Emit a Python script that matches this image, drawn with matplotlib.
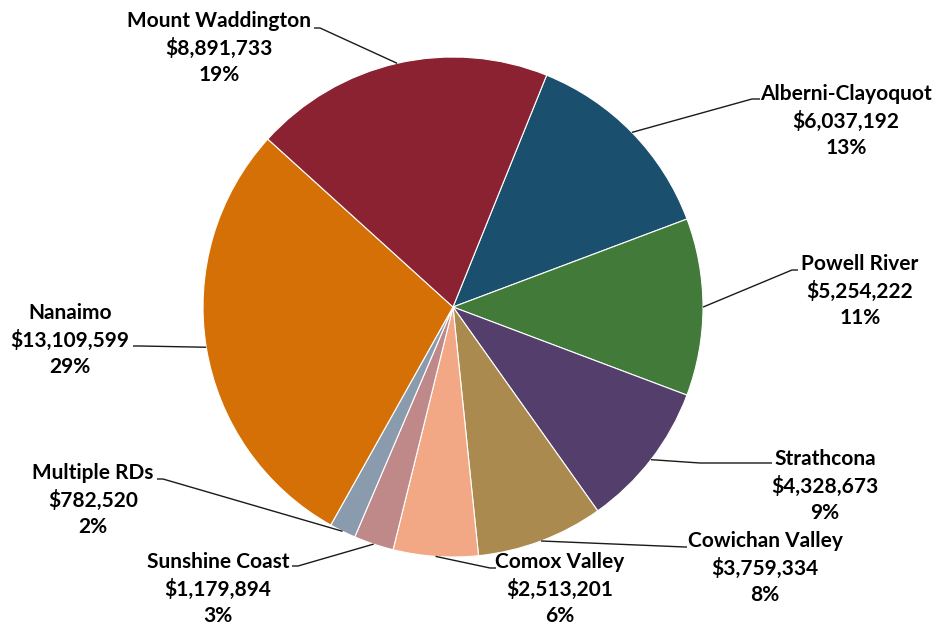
import numpy as np
import matplotlib.pyplot as plt

# Funding by regional district (clockwise from the top)
districts = ['Alberni-Clayoquot', 'Powell River', 'Strathcona', 'Cowichan Valley',
             'Comox Valley', 'Sunshine Coast', 'Multiple RDs', 'Nanaimo',
             'Mount Waddington']
amounts = [6037192, 5254222, 4328673, 3759334, 2513201, 1179894, 782520,
           13109599, 8891733]
pct_labels = ['13%', '11%', '9%', '8%', '6%', '3%', '2%', '29%', '19%']
colors = ['#1a4f6e', '#427a3a', '#543e6b', '#ab8a50', '#f2a884', '#bf898a',
          '#8a9bae', '#d47005', '#8b2232']

# label layout in pixels: text centre x, middle line y, stub y, text-side x, elbow x
label_cx = [846, 860, 825, 765, 560, 218, 93, 70, 219]
label_cy = [121, 291, 486, 568, 589, 589, 500, 340, 48]
stub_y = [99, 270, 463, 547, 568, 566, 479, 346, 28]
stub_x = [760, 798, 772, 687, 496, 292, 157, 133, 314]
elbow_x = [752, 792, 700, 685, 490, 298, 163, 140, 320]

W, H = 947, 626
cx, cy, R = 453, 307, 250

fig = plt.figure(figsize=(W / 100, H / 100), dpi=100)
ax = fig.add_axes([0, 0, 1, 1])

wedges, _ = ax.pie(amounts, colors=colors, startangle=68, counterclock=False,
                   radius=1, wedgeprops=dict(edgecolor='white', linewidth=0.8))

ax.set_xlim(-cx / R, (W - cx) / R)
ax.set_ylim(-(H - cy) / R, cy / R)
ax.set_aspect('equal')
ax.axis('off')


def to_data(px, py):
    return (px - cx) / R, (cy - py) / R


for i, w in enumerate(wedges):
    mid = np.deg2rad((w.theta1 + w.theta2) / 2)
    ax_, ay_ = np.cos(mid), np.sin(mid)
    ex, ey = to_data(elbow_x[i], stub_y[i])
    sx, sy = to_data(stub_x[i], stub_y[i])
    ax.plot([ax_, ex, sx], [ay_, ey, sy], color='#1a1a1a', lw=1.0,
            solid_capstyle='butt')
    tx, ty = to_data(label_cx[i], label_cy[i])
    ax.text(tx, ty, f'{districts[i]}\n${amounts[i]:,}\n{pct_labels[i]}',
            ha='center', va='center', fontsize=15, fontweight='bold',
            family=['Lato', 'DejaVu Sans'], linespacing=1.38, color='black')

fig.savefig('out.png', dpi=100)
